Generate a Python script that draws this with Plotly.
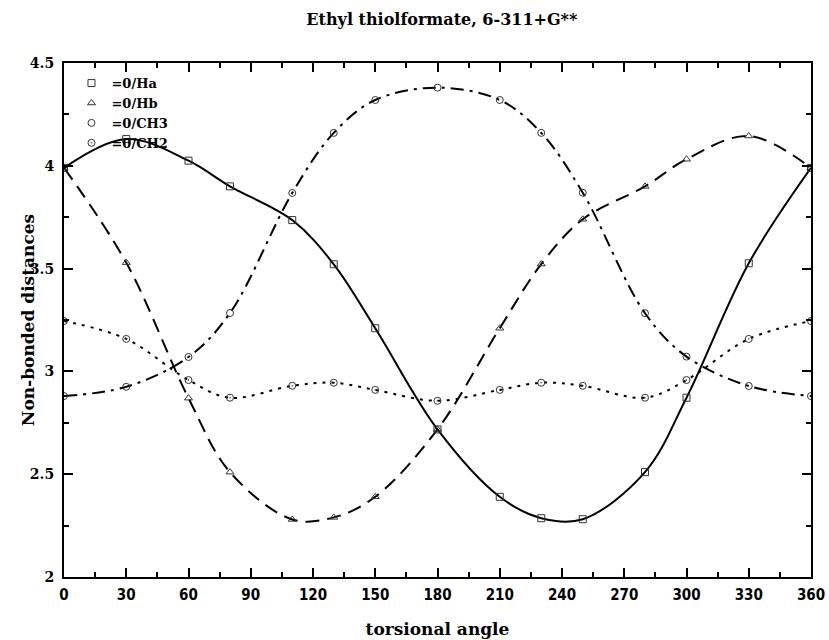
import plotly.graph_objects as go

angles = [0, 30, 60, 80, 110, 130, 150, 180, 210, 230, 250, 280, 300, 330, 360]
ha = [3.99, 4.13, 4.025, 3.90, 3.736, 3.521, 3.21, 2.718, 2.39, 2.286, 2.281, 2.51, 2.872, 3.526, 3.99]
hb = [3.99, 3.529, 2.87, 2.51, 2.28, 2.29, 2.39, 2.718, 3.21, 3.522, 3.74, 3.90, 4.032, 4.145, 3.99]
ch3 = [2.88, 2.925, 3.07, 3.284, 3.868, 4.16, 4.32, 4.38, 4.32, 4.16, 3.869, 3.283, 3.072, 2.929, 2.88]
ch2 = [3.245, 3.158, 2.958, 2.872, 2.93, 2.945, 2.91, 2.857, 2.91, 2.945, 2.93, 2.872, 2.958, 3.158, 3.245]

series = [
    ("=0/Ha", ha, "solid", "square-open"),
    ("=0/Hb", hb, "14px,8px", "triangle-up-open"),
    ("=0/CH3", ch3, "13px,6px,3px,6px", "circle-open"),
    ("=0/CH2", ch2, "3px,6px", "circle-open-dot"),
]

fig = go.Figure()
for name, ys, dash, sym in series:
    fig.add_trace(go.Scatter(
        x=angles, y=ys, mode="lines", line=dict(color="black", width=2, dash=dash, shape="spline", smoothing=1),
        showlegend=False, hoverinfo="skip"))
for name, ys, dash, sym in series:
    fig.add_trace(go.Scatter(
        x=angles, y=ys, mode="markers", name=name,
        marker=dict(symbol=sym, size=7, color="#333", line=dict(width=1, color="#333"))))

serif = "DejaVu Serif, Liberation Serif, serif"
xtickfont = dict(family="DejaVu Sans Condensed, Liberation Sans Narrow, Arial", size=15, color="black", weight="bold")
ytickfont = dict(family=serif, size=14, color="black", weight="bold")
titlefont = dict(family=serif, size=17, color="black", weight="bold")

axis_common = dict(showline=True, linecolor="black", linewidth=2, mirror="ticks", ticks="inside",
                   ticklen=9, tickwidth=2, tickcolor="black", showgrid=False, zeroline=False,
                   title_font=titlefont, automargin=False)

fig.update_xaxes(range=[0, 360], tickmode="linear", tick0=0, dtick=30, tickfont=xtickfont,
                 ticklabelstandoff=3,
                 minor=dict(dtick=15, ticks="inside", ticklen=5, tickwidth=1.5, tickcolor="black", showgrid=False),
                 title_text="torsional angle", title_standoff=20, **axis_common)
fig.update_yaxes(range=[2, 4.5], tickmode="linear", tick0=2, dtick=0.5, tickfont=ytickfont,
                 ticklabelstandoff=5,
                 minor=dict(dtick=0.25, ticks="inside", ticklen=5, tickwidth=1.5, tickcolor="black", showgrid=False),
                 **axis_common)

fig.add_annotation(text="Non-bonded distances", xref="paper", yref="paper", x=-0.048, y=0.5,
                   xanchor="center", yanchor="middle", textangle=-90, showarrow=False, font=titlefont)

fig.update_layout(
    width=829, height=640,
    margin=dict(l=64, r=18, t=63, b=63),
    plot_bgcolor="white", paper_bgcolor="white",
    title=dict(text="Ethyl thiolformate, 6-311+G**", x=0.533, xanchor="center", y=0.978, yanchor="top",
               font=dict(family=serif, size=16, color="black", weight="bold")),
    legend=dict(x=0.01, y=0.99, xanchor="left", yanchor="top", bgcolor="rgba(0,0,0,0)",
                font=dict(family=serif, size=13, color="black", weight="bold"),
                itemwidth=30, tracegroupgap=0),
)

fig.write_html("out.html")
